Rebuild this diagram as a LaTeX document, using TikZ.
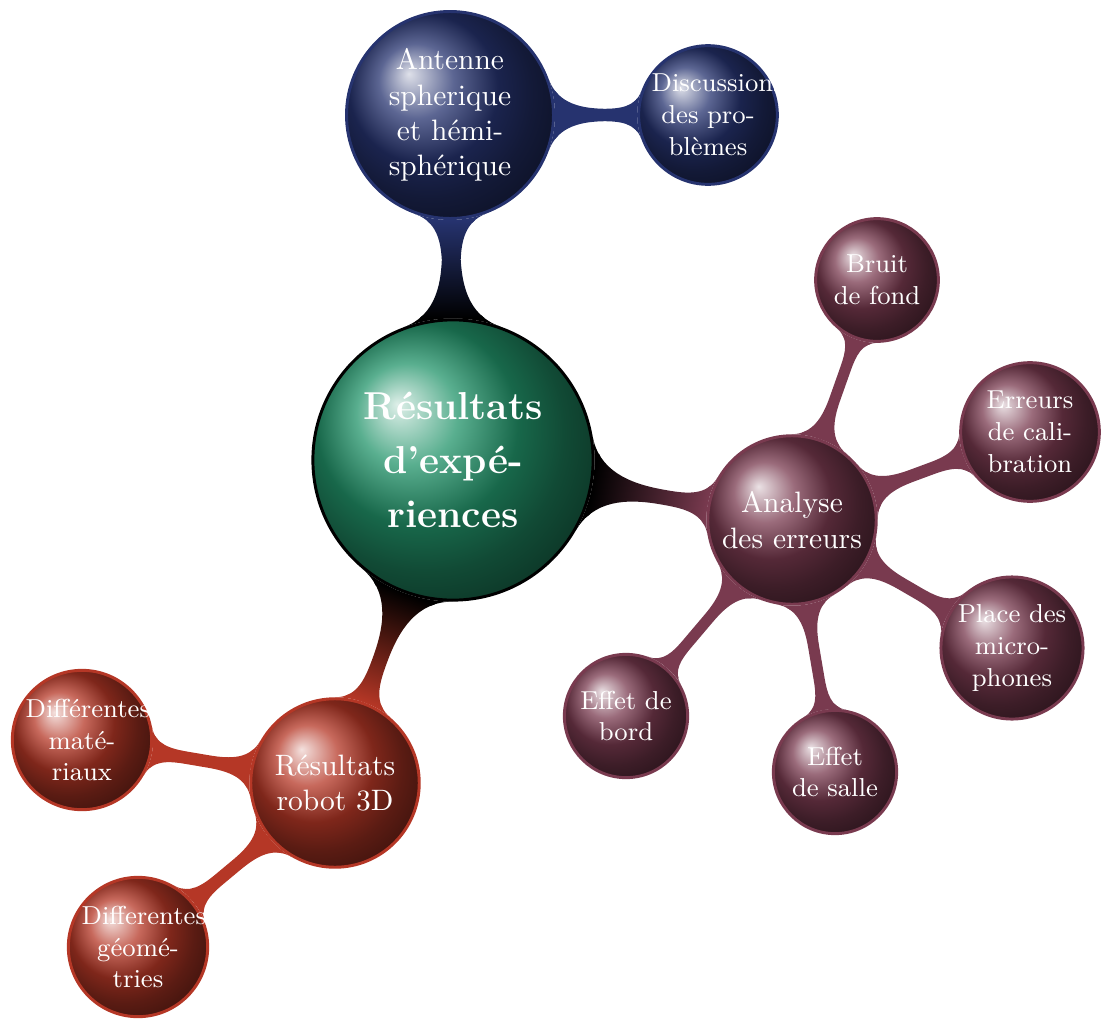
\documentclass[tikz,border=0pt]{standalone}
\usepackage{fontspec}
\usetikzlibrary{mindmap,backgrounds}
\definecolor{resGreen}{HTML}{22946A}
\definecolor{resBlue}{HTML}{26336F}
\definecolor{resWine}{HTML}{793A4F}
\definecolor{resRed}{HTML}{B53726}

\begin{document}
\begin{tikzpicture}[
    x=0.339pt, y=-0.339pt,
    ball/.style={circle, shading=ball, ball color=#1, draw=#1, line width=1pt,
                 inner sep=0pt, align=center, text=white},
    root/.style={ball=black, ball color=resGreen,
                 font=\fontsize{13.2}{18.3}\selectfont\bfseries,
                 text width=80pt, minimum size=95pt},
    lvlone/.style={ball=#1, text width=54pt, minimum size=50pt},
    lvltwo/.style={ball=#1, font=\fontsize{8.8}{10.8}\selectfont,
                   text width=38.2pt, minimum size=40pt},
    bar/.style 2 args={circle connection bar switch color=from (#1) to (#2)},
  ]
  \useasboundingbox (0,0) rectangle (1101,1021);

  \node[root] (root) at (453,460) {Résultats\\ d'expé-\\riences};

  \node[lvlone=resBlue] (ant) at (450,115) {Antenne\\ spherique\\ et hémi-\\sphérique};
  \node[lvltwo=resBlue] (disc) at (708,115) {Discussions\\ des pro-\\blèmes};

  \node[lvlone=resWine] (ana) at (792,520) {Analyse\\ des erreurs};
  \node[lvltwo=resWine] (bruit) at (877,280) {Bruit\\ de fond};
  \node[lvltwo=resWine] (calib) at (1030,432) {Erreurs\\ de cali-\\bration};
  \node[lvltwo=resWine] (place) at (1012,648) {Place des\\ micro-\\phones};
  \node[lvltwo=resWine] (salle) at (835,772) {Effet\\ de salle};
  \node[lvltwo=resWine] (bord) at (626,716) {Effet de\\ bord};

  \node[lvlone=resRed] (robot) at (335,783) {Résultats\\ robot 3D};
  \node[lvltwo=resRed] (mat) at (82,740) {Différentes\\ maté-\\riaux};
  \node[lvltwo=resRed] (geo) at (138,947) {Differentes\\ géomé-\\tries};

  \begin{pgfonlayer}{background}
    \path (root) to[bar={black}{resBlue}] (ant);
    \path (root) to[bar={black}{resWine}] (ana);
    \path (root) to[bar={black}{resRed}] (robot);
    \path (ant) to[bar={resBlue}{resBlue}] (disc);
    \path (ana) to[bar={resWine}{resWine}] (bruit);
    \path (ana) to[bar={resWine}{resWine}] (calib);
    \path (ana) to[bar={resWine}{resWine}] (place);
    \path (ana) to[bar={resWine}{resWine}] (salle);
    \path (ana) to[bar={resWine}{resWine}] (bord);
    \path (robot) to[bar={resRed}{resRed}] (mat);
    \path (robot) to[bar={resRed}{resRed}] (geo);
  \end{pgfonlayer}
\end{tikzpicture}
\end{document}
